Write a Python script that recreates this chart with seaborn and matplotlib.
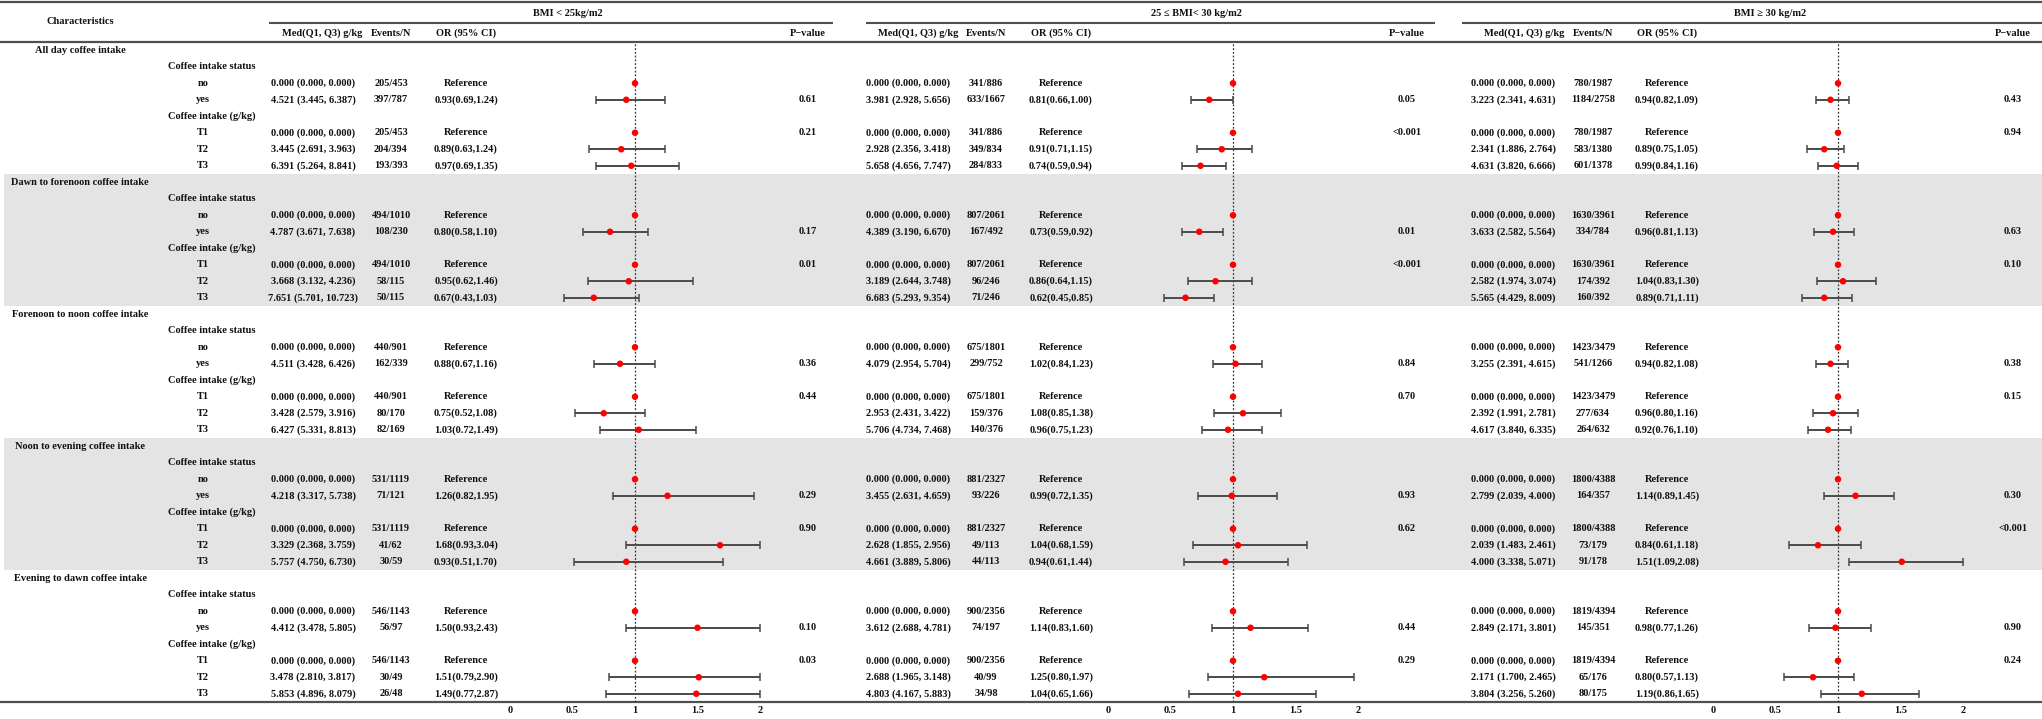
import numpy as np
import pandas as pd
import matplotlib
matplotlib.use("Agg")
import matplotlib.pyplot as plt
import seaborn as sns

nan = np.nan

sections = ["All day coffee intake", "Dawn to forenoon coffee intake",
            "Forenoon to noon coffee intake", "Noon to evening coffee intake",
            "Evening to dawn coffee intake"]
subgroups = ["Coffee intake status", "Coffee intake (g/kg)"]
status_levels = ["no", "yes"]
tertile_levels = ["T1", "T2", "T3"]
panel_titles = ["BMI < 25kg/m2", "25 \u2264 BMI< 30 kg/m2", "BMI \u2265 30 kg/m2"]
col_headers = ["Med(Q1, Q3) g/kg", "Events/N", "OR (95% CI)", "P\u2212value"]
axis_ticks = [0, 0.5, 1, 1.5, 2]
axis_ticklabels = ["0", "0.5", "1", "1.5", "2"]

# Data rows per section: no, yes, T1, T2, T3
# ---- BMI < 25
med_a = [0, 4.521, 0, 3.445, 6.391, 0, 4.787, 0, 3.668, 7.651, 0, 4.511, 0, 3.428, 6.427,
         0, 4.218, 0, 3.329, 5.757, 0, 4.412, 0, 3.478, 5.853]
q1_a = [0, 3.445, 0, 2.691, 5.264, 0, 3.671, 0, 3.132, 5.701, 0, 3.428, 0, 2.579, 5.331,
        0, 3.317, 0, 2.368, 4.750, 0, 3.478, 0, 2.810, 4.896]
q3_a = [0, 6.387, 0, 3.963, 8.841, 0, 7.638, 0, 4.236, 10.723, 0, 6.426, 0, 3.916, 8.813,
        0, 5.738, 0, 3.759, 6.730, 0, 5.805, 0, 3.817, 8.079]
events_a = [205, 397, 205, 204, 193, 494, 108, 494, 58, 50, 440, 162, 440, 80, 82,
            531, 71, 531, 41, 30, 546, 56, 546, 30, 26]
n_a = [453, 787, 453, 394, 393, 1010, 230, 1010, 115, 115, 901, 339, 901, 170, 169,
       1119, 121, 1119, 62, 59, 1143, 97, 1143, 49, 48]
or_a = [1, 0.93, 1, 0.89, 0.97, 1, 0.80, 1, 0.95, 0.67, 1, 0.88, 1, 0.75, 1.03,
        1, 1.26, 1, 1.68, 0.93, 1, 1.50, 1, 1.51, 1.49]
lo_a = [nan, 0.69, nan, 0.63, 0.69, nan, 0.58, nan, 0.62, 0.43, nan, 0.67, nan, 0.52, 0.72,
        nan, 0.82, nan, 0.93, 0.51, nan, 0.93, nan, 0.79, 0.77]
hi_a = [nan, 1.24, nan, 1.24, 1.35, nan, 1.10, nan, 1.46, 1.03, nan, 1.16, nan, 1.08, 1.49,
        nan, 1.95, nan, 3.04, 1.70, nan, 2.43, nan, 2.90, 2.87]
p_status_a = ["0.61", "0.17", "0.36", "0.29", "0.10"]
p_trend_a = ["0.21", "0.01", "0.44", "0.90", "0.03"]

# ---- 25 <= BMI < 30
med_b = [0, 3.981, 0, 2.928, 5.658, 0, 4.389, 0, 3.189, 6.683, 0, 4.079, 0, 2.953, 5.706,
         0, 3.455, 0, 2.628, 4.661, 0, 3.612, 0, 2.688, 4.803]
q1_b = [0, 2.928, 0, 2.356, 4.656, 0, 3.190, 0, 2.644, 5.293, 0, 2.954, 0, 2.431, 4.734,
        0, 2.631, 0, 1.855, 3.889, 0, 2.688, 0, 1.965, 4.167]
q3_b = [0, 5.656, 0, 3.418, 7.747, 0, 6.670, 0, 3.748, 9.354, 0, 5.704, 0, 3.422, 7.468,
        0, 4.659, 0, 2.956, 5.806, 0, 4.781, 0, 3.148, 5.883]
events_b = [341, 633, 341, 349, 284, 807, 167, 807, 96, 71, 675, 299, 675, 159, 140,
            881, 93, 881, 49, 44, 900, 74, 900, 40, 34]
n_b = [886, 1667, 886, 834, 833, 2061, 492, 2061, 246, 246, 1801, 752, 1801, 376, 376,
       2327, 226, 2327, 113, 113, 2356, 197, 2356, 99, 98]
or_b = [1, 0.81, 1, 0.91, 0.74, 1, 0.73, 1, 0.86, 0.62, 1, 1.02, 1, 1.08, 0.96,
        1, 0.99, 1, 1.04, 0.94, 1, 1.14, 1, 1.25, 1.04]
lo_b = [nan, 0.66, nan, 0.71, 0.59, nan, 0.59, nan, 0.64, 0.45, nan, 0.84, nan, 0.85, 0.75,
        nan, 0.72, nan, 0.68, 0.61, nan, 0.83, nan, 0.80, 0.65]
hi_b = [nan, 1.00, nan, 1.15, 0.94, nan, 0.92, nan, 1.15, 0.85, nan, 1.23, nan, 1.38, 1.23,
        nan, 1.35, nan, 1.59, 1.44, nan, 1.60, nan, 1.97, 1.66]
p_status_b = ["0.05", "0.01", "0.84", "0.93", "0.44"]
p_trend_b = ["<0.001", "<0.001", "0.70", "0.62", "0.29"]

# ---- BMI >= 30
med_c = [0, 3.223, 0, 2.341, 4.631, 0, 3.633, 0, 2.582, 5.565, 0, 3.255, 0, 2.392, 4.617,
         0, 2.799, 0, 2.039, 4.000, 0, 2.849, 0, 2.171, 3.804]
q1_c = [0, 2.341, 0, 1.886, 3.820, 0, 2.582, 0, 1.974, 4.429, 0, 2.391, 0, 1.991, 3.840,
        0, 2.039, 0, 1.483, 3.338, 0, 2.171, 0, 1.700, 3.256]
q3_c = [0, 4.631, 0, 2.764, 6.666, 0, 5.564, 0, 3.074, 8.009, 0, 4.615, 0, 2.781, 6.335,
        0, 4.000, 0, 2.461, 5.071, 0, 3.801, 0, 2.465, 5.260]
events_c = [780, 1184, 780, 583, 601, 1630, 334, 1630, 174, 160, 1423, 541, 1423, 277, 264,
            1800, 164, 1800, 73, 91, 1819, 145, 1819, 65, 80]
n_c = [1987, 2758, 1987, 1380, 1378, 3961, 784, 3961, 392, 392, 3479, 1266, 3479, 634, 632,
       4388, 357, 4388, 179, 178, 4394, 351, 4394, 176, 175]
or_c = [1, 0.94, 1, 0.89, 0.99, 1, 0.96, 1, 1.04, 0.89, 1, 0.94, 1, 0.96, 0.92,
        1, 1.14, 1, 0.84, 1.51, 1, 0.98, 1, 0.80, 1.19]
lo_c = [nan, 0.82, nan, 0.75, 0.84, nan, 0.81, nan, 0.83, 0.71, nan, 0.82, nan, 0.80, 0.76,
        nan, 0.89, nan, 0.61, 1.09, nan, 0.77, nan, 0.57, 0.86]
hi_c = [nan, 1.09, nan, 1.05, 1.16, nan, 1.13, nan, 1.30, 1.11, nan, 1.08, nan, 1.16, 1.10,
        nan, 1.45, nan, 1.18, 2.08, nan, 1.26, nan, 1.13, 1.65]
p_status_c = ["0.43", "0.63", "0.38", "0.30", "0.90"]
p_trend_c = ["0.94", "0.10", "0.15", "<0.001", "0.24"]

panels = [
    dict(med=med_a, q1=q1_a, q3=q3_a, ev=events_a, n=n_a, orv=or_a, lo=lo_a, hi=hi_a,
         ps=p_status_a, pt=p_trend_a),
    dict(med=med_b, q1=q1_b, q3=q3_b, ev=events_b, n=n_b, orv=or_b, lo=lo_b, hi=hi_b,
         ps=p_status_b, pt=p_trend_b),
    dict(med=med_c, q1=q1_c, q3=q3_c, ev=events_c, n=n_c, orv=or_c, lo=lo_c, hi=hi_c,
         ps=p_status_c, pt=p_trend_c),
]

# ---------------- layout (pixels) ----------------
W, H = 2042, 719
HDR_LINE = 42.0
PITCH = 16.5
NROWS = 40
BOT_LINE = HDR_LINE + PITCH * NROWS
AXMAX = 2.0
layout = [
    dict(med=313, medh=322, ev=391, orx=466, p=808, grp=568, ul=(269, 833), zero=510),
    dict(med=908, medh=918, ev=986, orx=1061, p=1407, grp=1196, ul=(866, 1435), zero=1108),
    dict(med=1513, medh=1524, ev=1593, orx=1667, p=2013, grp=1770, ul=(1462, 2042), zero=1713),
]
PX_PER_UNIT = 125.0

FAM = ["Liberation Serif", "DejaVu Serif"]
FS = 7.5
LINE_C = "#505050"

sns.set_theme(style="white")
plt.rcParams["font.family"] = FAM
plt.rcParams["font.weight"] = "bold"

fig = plt.figure(figsize=(W / 100, H / 100), dpi=100)
axt = fig.add_axes([0, 0, 1, 1])
axt.set_xlim(0, W)
axt.set_ylim(H, 0)
axt.axis("off")


def yrow(i):
    return HDR_LINE + PITCH * (i + 0.5)


def txt(x, y, s, ha="center"):
    axt.text(x, y, s, ha=ha, va="center", fontsize=FS, fontweight="bold",
             family=FAM, color="#111111", zorder=5)


# shaded sections
for k in range(len(sections)):
    if k % 2 == 1:
        axt.axhspan(HDR_LINE + PITCH * 8 * k, HDR_LINE + PITCH * 8 * (k + 1),
                    xmin=0.002, xmax=1, color="#e4e4e4", lw=0, zorder=0)

# rules
axt.plot([0, W], [1.5, 1.5], color=LINE_C, lw=1.6, solid_capstyle="butt")
axt.plot([0, W], [HDR_LINE, HDR_LINE], color=LINE_C, lw=1.6, solid_capstyle="butt")
axt.plot([0, W], [BOT_LINE, BOT_LINE], color=LINE_C, lw=1.6, solid_capstyle="butt")

# header
txt(80, 21, "Characteristics")
for p, lay in enumerate(layout):
    txt(lay["grp"], 14, panel_titles[p])
    axt.plot(lay["ul"], [23, 23], color=LINE_C, lw=1.5, solid_capstyle="butt")
    txt(lay["medh"], 33, col_headers[0])
    txt(lay["ev"], 33, col_headers[1])
    txt(lay["orx"], 33, col_headers[2])
    txt(lay["p"], 33, col_headers[3])

# left labels and row map
data_rows = []  # table row index for each data entry
for k, sec in enumerate(sections):
    base = 8 * k
    txt(80, yrow(base), sec)
    txt(212, yrow(base + 1), subgroups[0])
    txt(203, yrow(base + 2), status_levels[0])
    txt(203, yrow(base + 3), status_levels[1])
    txt(212, yrow(base + 4), subgroups[1])
    for j, t in enumerate(tertile_levels):
        txt(203, yrow(base + 5 + j), t)
    data_rows += [base + 2, base + 3, base + 5, base + 6, base + 7]

# panels
for p, (d, lay) in enumerate(zip(panels, layout)):
    df = pd.DataFrame(dict(row=data_rows, orv=d["orv"], lo=d["lo"], hi=d["hi"],
                           med=d["med"], q1=d["q1"], q3=d["q3"], ev=d["ev"], n=d["n"]))
    for _, r in df.iterrows():
        y = yrow(r["row"])
        txt(lay["med"], y, f"{r['med']:.3f} ({r['q1']:.3f}, {r['q3']:.3f})")
        txt(lay["ev"], y, f"{int(r['ev'])}/{int(r['n'])}")
        if np.isnan(r["lo"]):
            txt(lay["orx"], y, "Reference")
        else:
            txt(lay["orx"], y, f"{r['orv']:.2f}({r['lo']:.2f},{r['hi']:.2f})")
    for k in range(len(sections)):
        txt(lay["p"], yrow(8 * k + 3), d["ps"][k])
        txt(lay["p"], yrow(8 * k + 5), d["pt"][k])

    # forest axes
    x0 = -0.2
    x1 = 2.2
    left_px = lay["zero"] + x0 * PX_PER_UNIT
    width_px = (x1 - x0) * PX_PER_UNIT
    ax = fig.add_axes([left_px / W, (H - BOT_LINE) / H, width_px / W, (BOT_LINE - HDR_LINE) / H])
    ax.set_facecolor("none")
    ax.set_xlim(x0, x1)
    ax.set_ylim(NROWS - 0.5, -0.5)
    for s in ax.spines.values():
        s.set_visible(False)
    ax.axvline(1, color="#333333", lw=0.9, ls=(0, (1.5, 1.5)), zorder=1)
    ci = df.dropna(subset=["lo"]).copy()
    ci["hi_c"] = ci["hi"].clip(upper=AXMAX)
    ax.errorbar(ci["orv"], ci["row"],
                xerr=[ci["orv"] - ci["lo"], ci["hi_c"] - ci["orv"]],
                fmt="none", ecolor="#4a4a4a", elinewidth=1.4, capsize=2.6,
                capthick=1.1, zorder=2)
    sns.scatterplot(data=df, x="orv", y="row", ax=ax, color="#ff0000", s=22,
                    edgecolor="none", linewidth=0, zorder=4, legend=False)
    ax.set_xlabel("")
    ax.set_ylabel("")
    ax.set_yticks([])
    ax.set_xticks(axis_ticks)
    ax.set_xticklabels(axis_ticklabels, fontsize=FS, fontweight="bold", family=FAM)
    ax.tick_params(axis="x", length=0, pad=3, colors="#111111")
    ax.grid(False)

fig.savefig("out.png", dpi=100)
